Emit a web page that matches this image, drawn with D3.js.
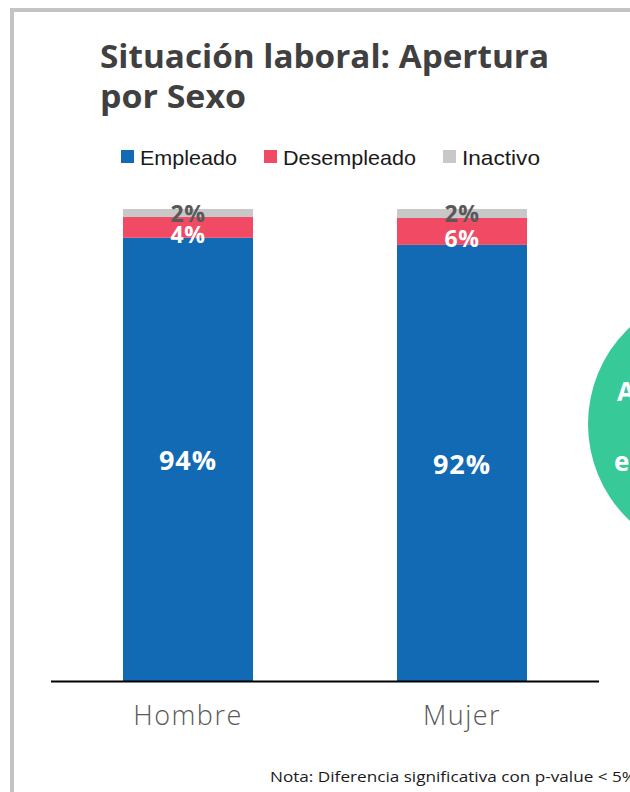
<!DOCTYPE html>
<html><head><meta charset="utf-8">
<script src="https://cdn.jsdelivr.net/npm/d3@7"></script>
<style>html,body{margin:0;padding:0;background:#fff;overflow:hidden}</style>
</head><body>
<script>
const categories = ["Hombre", "Mujer"];
const seriesNames = ["Empleado", "Desempleado", "Inactivo"];
const empleado = [93.9, 92.4];
const desempleado = [4.4, 5.7];
const inactivo = [1.7, 1.9];
const colors = ["#1269B4", "#F04A64", "#C8C8C8"];
const labelColors = ["#ffffff", "#ffffff", "#595959"];

const W = 630, H = 792;
const svg = d3.select("body").append("svg").attr("width", W).attr("height", H);

// frame
svg.append("rect").attr("x", 12).attr("y", 10).attr("width", 640).attr("height", 800)
  .attr("fill", "none").attr("stroke", "#C4C4C4").attr("stroke-width", 4);

// green circle (partially visible)
svg.append("circle").attr("cx", 721).attr("cy", 424).attr("r", 133).attr("fill", "#37C998");
svg.append("text").attr("x", 617).attr("y", 401).attr("fill", "#fff")
  .attr("font-family", "Open Sans, sans-serif").attr("font-weight", 700).attr("font-size", 26).text("A");
svg.append("text").attr("x", 614).attr("y", 471).attr("fill", "#fff")
  .attr("font-family", "Open Sans, sans-serif").attr("font-weight", 700).attr("font-size", 26).text("e");

// title
const title = svg.append("text").attr("fill", "#404040")
  .attr("font-family", "Open Sans, sans-serif").attr("font-weight", 700).attr("font-size", 32);
title.append("tspan").attr("x", 100).attr("y", 68).attr("textLength", 449).attr("lengthAdjust", "spacingAndGlyphs").text("Situación laboral: Apertura");
title.append("tspan").attr("x", 100).attr("y", 108).attr("textLength", 146).attr("lengthAdjust", "spacingAndGlyphs").text("por Sexo");

// legend
const legendX = [121, 264, 443];
const legendLen = [97, 133, 78];
seriesNames.forEach((s, i) => {
  svg.append("rect").attr("x", legendX[i]).attr("y", 150).attr("width", 13).attr("height", 13).attr("fill", colors[i]);
  svg.append("text").attr("x", legendX[i] + 19).attr("y", 165).attr("fill", "#1a1a1a")
    .attr("font-family", "Liberation Sans, Arial, sans-serif").attr("font-size", 21)
    .attr("textLength", legendLen[i]).attr("lengthAdjust", "spacingAndGlyphs").text(s);
});

// chart
const x = d3.scaleBand().domain(categories).range([51, 599]).paddingInner(0.5255).paddingOuter(0.2628);
const y = d3.scaleLinear().domain([0, 100]).range([681, 209]);

const data = categories.map((c, i) => ({cat: c, Empleado: empleado[i], Desempleado: desempleado[i], Inactivo: inactivo[i]}));
const stack = d3.stack().keys(seriesNames)(data);

stack.forEach((layer, li) => {
  svg.append("g").selectAll("rect").data(layer).join("rect")
    .attr("x", d => x(d.data.cat)).attr("width", x.bandwidth())
    .attr("y", d => y(d[1])).attr("height", d => y(d[0]) - y(d[1]))
    .attr("fill", colors[li]);
});

// labels
const labelSizes = [27, 23, 23];
stack.forEach((layer, li) => {
  svg.append("g").selectAll("text").data(layer).join("text")
    .attr("x", d => x(d.data.cat) + x.bandwidth() / 2)
    .attr("y", d => {
      const mid = (y(d[0]) + y(d[1])) / 2;
      if (li === 0) return mid + 11;
      if (li === 1) return mid + 16;
      return y(d[1]) + 13;
    })
    .attr("text-anchor", "middle").attr("fill", labelColors[li])
    .attr("font-family", "Open Sans, sans-serif").attr("font-weight", 700).attr("font-size", labelSizes[li])
    .attr("letter-spacing", li === 0 ? 1 : 0.5)
    .text(d => Math.round(d[1] - d[0]) + "%");
});

// axis
const axis = svg.append("g").attr("transform", "translate(0,681)").call(d3.axisBottom(x).tickSize(0).tickPadding(25));
axis.select(".domain").remove();
svg.append("line").attr("x1", 51).attr("x2", 599).attr("y1", 681.5).attr("y2", 681.5).attr("stroke", "#000").attr("stroke-width", 2);
axis.selectAll("text").attr("font-family", "Open Sans, sans-serif").attr("font-size", 27).attr("font-weight", 300)
  .attr("letter-spacing", 1.5).attr("fill", "#595959");

// note
svg.append("text").attr("x", 270).attr("y", 782).attr("fill", "#1a1a1a")
  .attr("font-family", "Open Sans, sans-serif").attr("font-size", 15)
  .attr("textLength", 366).attr("lengthAdjust", "spacingAndGlyphs").text("Nota: Diferencia significativa con p-value < 5%");
</script>
</body></html>
